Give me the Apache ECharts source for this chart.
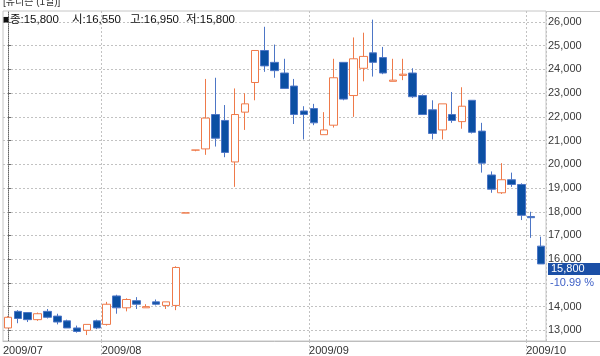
<!DOCTYPE html>
<html>
<head>
<meta charset="utf-8">
<script src="https://cdn.jsdelivr.net/npm/echarts@6/dist/echarts.min.js"></script>
<style>html,body{margin:0;padding:0;background:#fff}#c{width:600px;height:356px}</style>
</head>
<body>
<div id="c"></div>
<script>
const dates = ['2009/07/20','2009/07/21','2009/07/22','2009/07/23','2009/07/24','2009/07/27','2009/07/28','2009/07/29','2009/07/30','2009/07/31',
'2009/08/03','2009/08/04','2009/08/05','2009/08/06','2009/08/07','2009/08/10','2009/08/11','2009/08/12','2009/08/13','2009/08/14',
'2009/08/17','2009/08/18','2009/08/19','2009/08/20','2009/08/21','2009/08/24','2009/08/25','2009/08/26','2009/08/27','2009/08/28','2009/08/31',
'2009/09/01','2009/09/02','2009/09/03','2009/09/04','2009/09/07','2009/09/08','2009/09/09','2009/09/10','2009/09/11',
'2009/09/14','2009/09/15','2009/09/16','2009/09/17','2009/09/18','2009/09/21','2009/09/22','2009/09/23','2009/09/24','2009/09/25',
'2009/09/28','2009/09/29','2009/09/30','2009/10/01','2009/10/05'];
const openP  = [13100,13800,13750,13450,13800,13600,13400,13100,13000,13400,
13250,14450,13950,14250,13950,14200,14050,14050,17950,20600,
20650,22100,21850,20100,22200,23450,24800,24300,23850,23300,22250,
22350,21250,21650,24300,22900,24050,24700,24500,23500,
23750,23850,22900,22300,21450,22100,21800,22700,21400,19550,
18800,19350,19150,17800,16550];
const closeP = [13550,13500,13450,13700,13550,13350,13100,12950,13250,13100,
14100,13950,14300,14100,14000,14100,14200,15650,17950,20600,
21950,21100,20500,22100,22550,24800,24150,23950,23200,22100,22100,
21750,21450,23650,22750,24450,24550,24300,23850,23550,
23800,22850,22100,21300,22550,21850,22450,21350,20050,18950,
19350,19150,17850,17750,15800];
const lowP   = [13100,13300,13350,13400,13500,13250,13100,12900,12800,13050,
13200,13700,13800,13900,13950,14050,13900,13850,17950,20550,
20400,20750,20300,19050,21450,22700,23900,23650,23200,21700,21050,
21650,21250,21550,22700,22000,23500,23700,23800,23500,
23550,22800,22100,21050,21050,21750,21500,21300,19650,18800,
18750,19050,17650,16900,15800];
const highP  = [13600,13850,13750,13750,13900,13700,13450,13200,13250,13450,
14200,14500,14350,14400,14100,14300,14200,15700,17950,20600,
23600,23650,22500,23200,23000,24800,25800,25050,24450,23600,22450,
22550,22200,24450,24300,25350,25550,26100,24950,24450,
24450,24050,22950,22700,22550,23050,23250,22700,21750,19700,
20050,19650,19200,18000,16950];
const yTicks = [13000,14000,15000,16000,17000,18000,19000,20000,21000,22000,23000,24000,25000,26000];
const yLabelTicks = [13000,14000,16000,17000,18000,19000,20000,21000,22000,23000,24000,25000,26000];
const chartTitle = '[유니슨 (1일)]';

const fmt = v => Math.round(v).toLocaleString('en-US');
const candleData = dates.map((d, i) => [openP[i], closeP[i], lowP[i], highP[i]]);
const monthStarts = [];
dates.forEach((d, i) => { if (i === 0 || d.slice(0, 7) !== dates[i - 1].slice(0, 7)) monthStarts.push(i); });
const boundaries = monthStarts.map(i => i - 0.5);
const boundaryLabel = {};
monthStarts.forEach(i => { boundaryLabel[i - 0.5] = dates[i].slice(0, 7); });

const n = dates.length - 1;
const lastC = closeP[n], prevC = closeP[n - 1];
const pct = (lastC - prevC) / prevC * 100;

const FONT = "'Liberation Sans','Noto Sans CJK KR',sans-serif";
const chart = echarts.init(document.getElementById('c'), null, { renderer: 'canvas' });
const option = {
  animation: false,
  backgroundColor: '#ffffff',
  textStyle: { fontFamily: FONT },
  grid: { left: 1, right: 54, top: 11, bottom: 15, show: true, borderColor: '#c6c6c6', borderWidth: 1, backgroundColor: 'transparent' },
  xAxis: [
    {
      type: 'category', data: dates, boundaryGap: true,
      axisLine: { show: true, lineStyle: { color: '#bdbdbd' } },
      axisTick: { show: false }, axisLabel: { show: false },
      splitLine: { show: true, interval: (i) => i > 0 && monthStarts.indexOf(i) >= 0, lineStyle: { type: [2, 2], color: '#c2c2c2' } }
    },
    {
      type: 'value', position: 'bottom', min: -0.5, max: dates.length - 0.5,
      axisLine: { show: false }, splitLine: { show: false },
      axisTick: { show: true, customValues: boundaries.filter(b => b > 0), length: 15, lineStyle: { type: [2, 2], color: '#c2c2c2' } },
      axisLabel: { customValues: boundaries, formatter: v => boundaryLabel[v] || '', align: 'left', margin: 4, fontSize: 11, color: '#333', fontFamily: FONT, showMinLabel: true, showMaxLabel: true }
    }
  ],
  yAxis: {
    type: 'value', position: 'right', min: 12550, max: 26465,
    axisLine: { show: true, lineStyle: { color: '#666', type: [1, 1] } },
    axisTick: { show: true, customValues: yTicks, length: 3, lineStyle: { color: '#666' } },
    axisLabel: { customValues: yLabelTicks, formatter: v => fmt(v), margin: 2, fontSize: 11, color: '#3a3a3a', fontFamily: FONT },
    splitLine: { show: true, lineStyle: { type: [2, 2], color: '#c2c2c2' } }
  },
  series: [{
    type: 'candlestick', data: candleData, barWidth: 8,
    itemStyle: { color: '#ffffff', color0: '#0b4fa3', borderColor: '#ef7a4a', borderColor0: '#4d76c6', borderWidth: 1 }
  }]
};
chart.setOption(option);

const py = chart.convertToPixel({ yAxisIndex: 0 }, lastC);
const hdr = (x, s) => ({ type: 'text', x: x, y: 20, style: { text: s, fontSize: 11.5, fill: '#111', fontFamily: FONT, verticalAlign: 'middle' } });
chart.setOption({
  graphic: [
    { type: 'text', left: 3, top: -3, style: { text: chartTitle, fontSize: 10, fill: '#333', fontFamily: FONT } },
    hdr(3, '■종:' + fmt(closeP[n])),
    hdr(72, '시:' + fmt(openP[n])),
    hdr(130, '고:' + fmt(highP[n])),
    hdr(186, '저:' + fmt(lowP[n])),
    { type: 'line', shape: { x1: 546, y1: 11.5, x2: 600, y2: 11.5 }, style: { stroke: '#c6c6c6', lineWidth: 1 } },
    { type: 'line', shape: { x1: 546, y1: 341.5, x2: 600, y2: 341.5 }, style: { stroke: '#bdbdbd', lineWidth: 1 } },
    { type: 'rect', shape: { x: 548, y: Math.round(py) - 1, width: 52, height: 12 }, style: { fill: '#1b4fa6' } },
    { type: 'text', x: 551, y: Math.round(py) + 5, style: { text: fmt(lastC), fontSize: 11, fill: '#ffffff', fontFamily: FONT, verticalAlign: 'middle' } },
    { type: 'text', x: 550, y: Math.round(py) + 19, style: { text: pct.toFixed(2) + ' %', fontSize: 11, fill: '#3d5fc6', fontFamily: FONT, verticalAlign: 'middle' } }
  ]
});
</script>
</body>
</html>
